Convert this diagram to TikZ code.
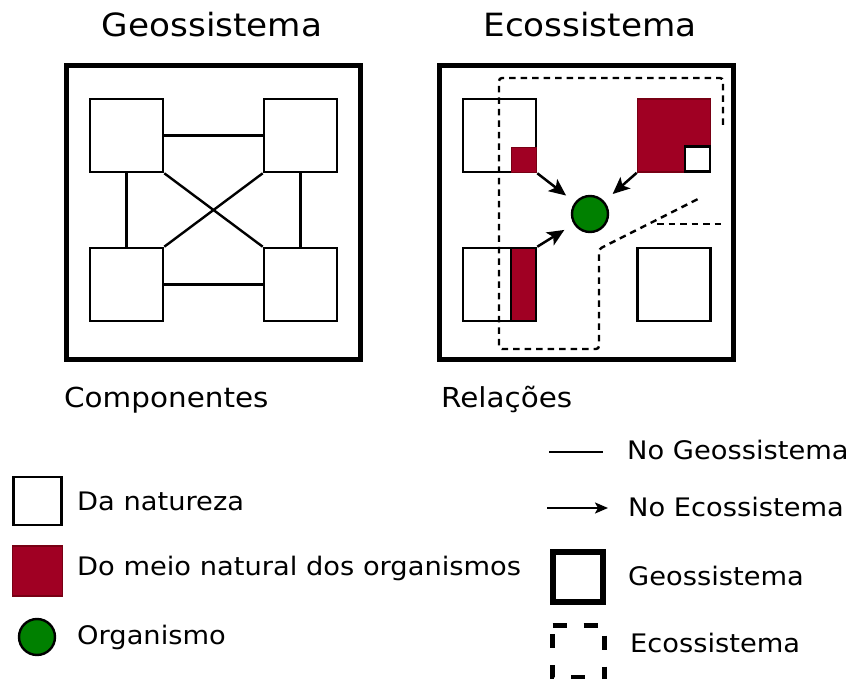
\documentclass[tikz,border=0pt]{standalone}
\usepackage{fontspec}
\setmainfont{DejaVu Sans}[FakeStretch=1.07]
\usetikzlibrary{arrows.meta}
\definecolor{meiored}{RGB}{160,0,35}
\definecolor{meiodark}{RGB}{120,0,20}
\definecolor{orggreen}{RGB}{0,128,0}
\tikzset{
  sistema/.style={draw, line width=5pt, minimum size=294pt, inner sep=0pt},
  comp/.style={draw, line width=2.6pt, fill=white, minimum size=73pt, inner sep=0pt},
  meio/.style={draw=meiodark, line width=1.6pt, fill=meiored, inner sep=0pt},
  organismo/.style={circle, draw, line width=2.4pt, fill=orggreen, minimum size=36pt, inner sep=0pt},
  ligacao/.style={line width=2.4pt},
  relacao/.style={line width=2.5pt, -{Stealth[length=17pt,width=15pt,inset=4pt]}},
  ecolimite/.style={line width=2.4pt, dash pattern=on 6.5pt off 5pt},
  titulo/.style={font=\fontsize{32}{38}\selectfont, anchor=base},
  rotulo/.style={font=\fontsize{27.5}{33}\selectfont, anchor=base west, inner sep=0pt},
  legenda/.style={font=\fontsize{25.5}{30}\selectfont, anchor=base west, inner sep=0pt},
}

\begin{document}
\begin{tikzpicture}[x=1pt, y=-1pt]
			%%%%% START %%%%%
			\useasboundingbox (0,0) rectangle (847,679);
			
			% Geossistema
			\node[sistema] (geo) at (213.5,212.5) {};
			\node[titulo] (geoT) at (212,37) {Geossistema};
			\node[rotulo] (geoR) at (64,407) {Componentes};
			
			\node[comp] (gTL) at (126.5,135.5) {};
			\node[comp] (gTR) at (300.5,135.5) {};
			\node[comp] (gBL) at (126.5,284.5) {};
			\node[comp] (gBR) at (300.5,284.5) {};
			
			\draw[ligacao] (gTL) -- (gTR);
			\draw[ligacao] (gBL) -- (gBR);
			\draw[ligacao] (gTL) -- (gBL);
			\draw[ligacao] (gTR) -- (gBR);
			\draw[ligacao] (gTL.south east) -- (gBR.north west);
			\draw[ligacao] (gTR.south west) -- (gBL.north east);
			
			% Ecossistema
			\node[sistema] (eco) at (586,212.5) {};
			\node[titulo] (ecoT) at (590,37) {Ecossistema};
			\node[rotulo] (ecoR) at (441,407) {Relações};
			
			\node[comp] (eTL) at (499.5,135.5) {};
			\node[comp, meio] (eTR) at (674,135.5) {};
			\node[comp] (eBL) at (499.5,284.5) {};
			\node[comp] (eBR) at (674,284.5) {};
			
			\node[meio, minimum size=25pt, anchor=south east] (rTL) at (eTL.south east) {};
			\node[comp, minimum size=25pt, anchor=south east] (wTR) at (eTR.south east) {};
			\node[meio, draw=black, line width=2.6pt, minimum width=25pt, minimum height=73pt, anchor=south east] (rBL) at (eBL.south east) {};
			
			\node[organismo] (org) at (590,214) {};
			
			\draw[relacao, shorten >=11pt] (rTL.south east) -- (org);
			\draw[relacao, shorten >=11pt] (eTR.south west) -- (org);
			\draw[relacao, shorten >=11pt] (rBL.north east) -- (org);
			
			\draw[ecolimite, rounded corners=3pt] (723,125) -- (723,78) -- (499,78) -- (499,349) -- (599,349) -- (599,249) -- (698,199);
			\draw[ecolimite] (657,224) -- (723,224);
			
			% legenda
			\node[comp, minimum size=48pt] (lNat) at (37.5,501) {};
			\node[legenda] (lNatT) at (77,510) {Da natureza};
			\node[meio, minimum size=50pt] (lMeio) at (37.5,571) {};
			\node[legenda] (lMeioT) at (77,575) {Do meio natural dos organismos};
			\node[organismo] (lOrg) at (37,637) {};
			\node[legenda] (lOrgT) at (77,644) {Organismo};
			
			\coordinate (lGa) at (549,452);
			\coordinate (lGb) at (603,452);
			\draw[ligacao] (lGa) -- (lGb);
			\node[legenda] (lGT) at (627,459) {No Geossistema};
			
			\coordinate (lEa) at (547,508);
			\coordinate (lEb) at (608,508);
			\draw[line width=2.2pt, -{Stealth[length=13pt,width=11pt,inset=3pt]}] (lEa) -- (lEb);
			\node[legenda] (lET) at (628,516) {No Ecossistema};
			
			\node[draw, line width=5.5pt, minimum size=50pt, inner sep=0pt] (lGeo) at (578,577) {};
			\node[legenda] (lGeoT) at (628,585) {Geossistema};
			
			\draw[line width=5.5pt, dash pattern=on 14pt off 17pt] (552.5,625.5) -- (604.5,625.5) -- (604.5,677.5) -- (552.5,677.5) -- cycle;
			\node[legenda] (lEcoT) at (630,652) {Ecossistema};
			
			%%%%% END %%%%%
\end{tikzpicture}
\end{document}
